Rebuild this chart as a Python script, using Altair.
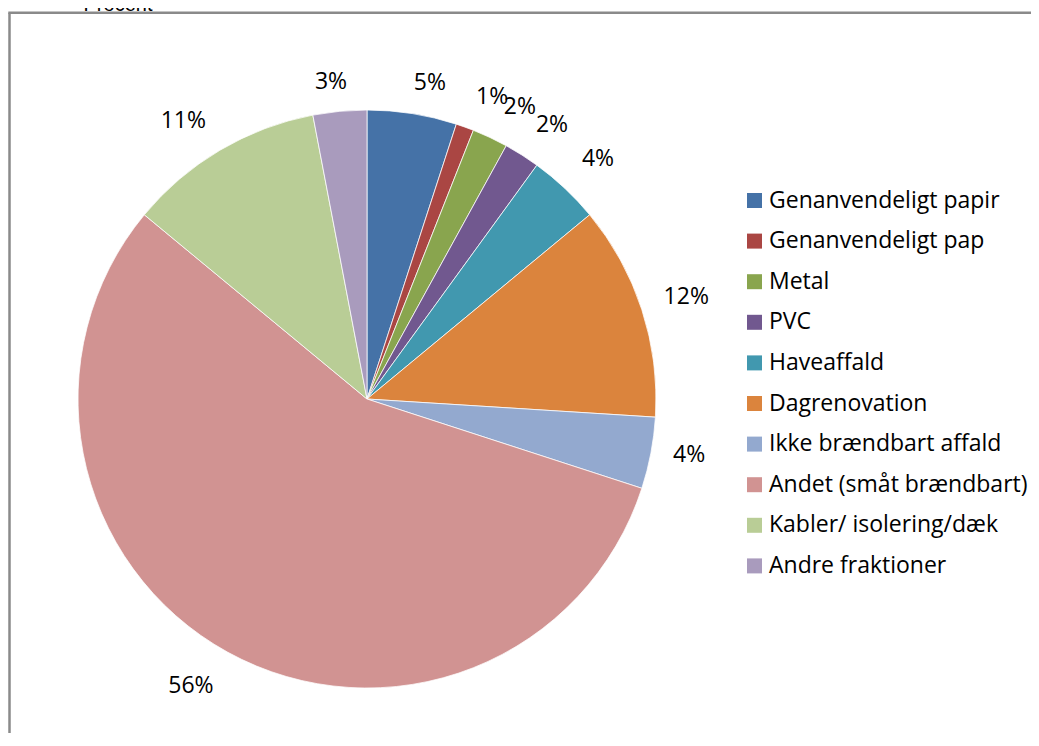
import altair as alt
import pandas as pd

categories = [
    "Genanvendeligt papir",
    "Genanvendeligt pap",
    "Metal",
    "PVC",
    "Haveaffald",
    "Dagrenovation",
    "Ikke brændbart affald",
    "Andet (småt brændbart)",
    "Kabler/ isolering/dæk",
    "Andre fraktioner",
]
values = [5, 1, 2, 2, 4, 12, 4, 56, 11, 3]
labels = ["5%", "1%", "2%", "2%", "4%", "12%", "4%", "56%", "11%", "3%"]
colors = ["#4572A7", "#AA4643", "#89A54E", "#71588F", "#4198AF",
          "#DB843D", "#93A9CF", "#D19392", "#B9CD96", "#A99BBD"]
# label placement (position around the pie in percent of the circle, distance in px)
label_pos = [3.13, 6.25, 7.67, 9.44, 12.2, 20.1, 27.75, 58.75, 90.7, 98.2]
label_dist = [322, 327, 330, 331, 333, 335, 327, 337, 333, 319]

df = pd.DataFrame({
    "cat": categories,
    "value": values,
    "label": labels,
    "idx": list(range(len(categories))),
    "lpos": label_pos,
    "ldist": label_dist,
})

CX, CY, R = 359, 391, 289
FONT = "Open Sans"
FS = 23

color = alt.Color(
    "cat:N",
    scale=alt.Scale(domain=categories, range=colors),
    sort=categories,
    legend=alt.Legend(
        title=None, orient="none", legendX=735, legendY=181,
        symbolType="square", symbolSize=225, symbolStrokeWidth=0,
        labelFontSize=FS, labelFont=FONT, labelColor="#000000",
        labelOffset=3, rowPadding=16.6, padding=0, labelLimit=400,
    ),
)

pie = alt.Chart(df).mark_arc(outerRadius=R, stroke="white", strokeWidth=0.75).encode(
    theta=alt.Theta("value:Q", stack=True, scale=alt.Scale(domain=[0, 100])),
    order=alt.Order("idx:Q"),
    color=color,
    x=alt.value(CX),
    y=alt.value(CY),
)

text = alt.Chart(df).mark_text(
    font=FONT, fontSize=FS, color="#000000", align="center", baseline="middle"
).encode(
    theta=alt.Theta("lpos:Q", stack=False, scale=alt.Scale(domain=[0, 100])),
    radius=alt.Radius("ldist:Q", scale=alt.Scale(type="linear", domain=[0, 400], range=[0, 400])),
    text="label:N",
    x=alt.value(CX),
    y=alt.value(CY),
)

frame_left = alt.Chart(df.head(1)).mark_rule(color="#8a8a8a", strokeWidth=2.5).encode(
    x=alt.value(1.5), y=alt.value(4.8), y2=alt.value(730)
)
frame_top = alt.Chart(df.head(1)).mark_rule(color="#8a8a8a", strokeWidth=2.5).encode(
    x=alt.value(0.3), x2=alt.value(1023), y=alt.value(4.8)
)
procent = alt.Chart(df.head(1)).mark_text(
    font="Liberation Sans", fontSize=20, color="#000000", align="center", baseline="alphabetic"
).encode(
    x=alt.value(110), y=alt.value(3), text=alt.value("Procent")
)

chart = alt.layer(frame_left, frame_top, procent, pie, text).properties(
    width=1023, height=725, padding=0,
    autosize=alt.AutoSizeParams(type="none"),
).configure_view(stroke=None)

chart.save("out.html", embed_options={"renderer": "svg", "actions": False})
